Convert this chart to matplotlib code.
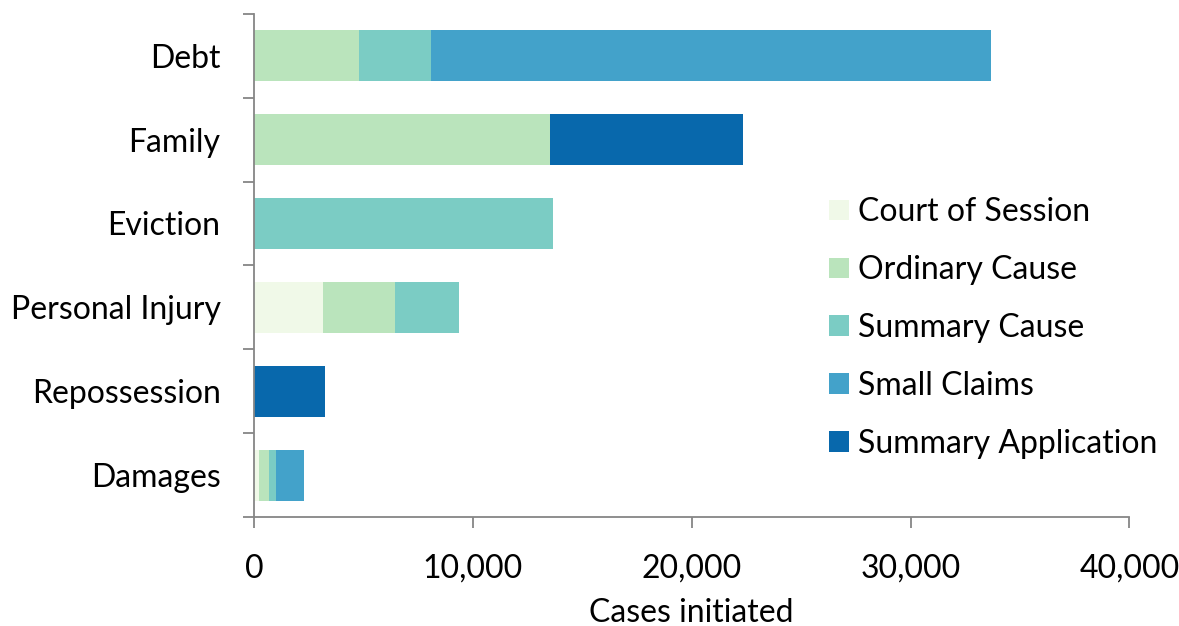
import matplotlib.pyplot as plt
import numpy as np
from matplotlib.ticker import FuncFormatter, FixedLocator

plt.rcParams["font.family"] = ["Lato", "DejaVu Sans"]

categories = ["Debt", "Family", "Eviction", "Personal Injury", "Repossession", "Damages"]
series_names = ["Court of Session", "Ordinary Cause", "Summary Cause",
				"Small Claims", "Summary Application"]

court_of_session = [0, 0, 0, 3170, 0, 230]
ordinary_cause = [4780, 13530, 0, 3260, 0, 460]
summary_cause = [3300, 0, 13670, 2940, 0, 320]
small_claims = [25600, 0, 0, 0, 0, 1280]
summary_application = [0, 8810, 0, 0, 3260, 0]

colors = ["#f0f9e8", "#bae4bc", "#7bccc4", "#43a2ca", "#0868ac"]

FS = 23

fig = plt.figure(figsize=(11.79, 6.26), dpi=100)
ax = fig.add_axes([0.2154, 0.174, 0.7426, 0.804])

y = np.arange(len(categories))
left = np.zeros(len(categories))
for name, vals, c in zip(series_names,
		[court_of_session, ordinary_cause, summary_cause, small_claims, summary_application],
		colors):
	vals = np.array(vals, dtype=float)
	ax.barh(y, vals, left=left, height=0.61, color=c, label=name, linewidth=0)
	left += vals

ax.set_ylim(len(categories) - 0.5, -0.5)
ax.set_xlim(0, 40000)

# category labels sit between the boundary tick marks
ax.yaxis.set_major_locator(FixedLocator(y))
ax.set_yticklabels(categories, fontsize=FS)
ax.tick_params(axis="y", which="major", length=0, pad=24)
ax.yaxis.set_minor_locator(FixedLocator(np.arange(-0.5, len(categories), 1.0)))
ax.tick_params(axis="y", which="minor", length=8, width=1.3, color="#868686")

ax.set_xticks(range(0, 40001, 10000))
ax.xaxis.set_major_formatter(FuncFormatter(lambda v, p: f"{int(v):,}"))
ax.tick_params(axis="x", length=8, width=1.3, color="#868686", labelsize=FS, pad=18.5)
ax.set_xlabel("Cases initiated", fontsize=FS, labelpad=10)

for side in ["top", "right"]:
	ax.spines[side].set_visible(False)
for side in ["left", "bottom"]:
	ax.spines[side].set_color("#868686")
	ax.spines[side].set_linewidth(1.3)

fig.legend(loc="upper left", bbox_to_anchor=(0.703, 0.685), frameon=False,
	fontsize=FS, handlelength=0.62, handleheight=0.62, handletextpad=0.28,
	labelspacing=0.875, borderpad=0, borderaxespad=0)

fig.savefig("out.png", dpi=100)
